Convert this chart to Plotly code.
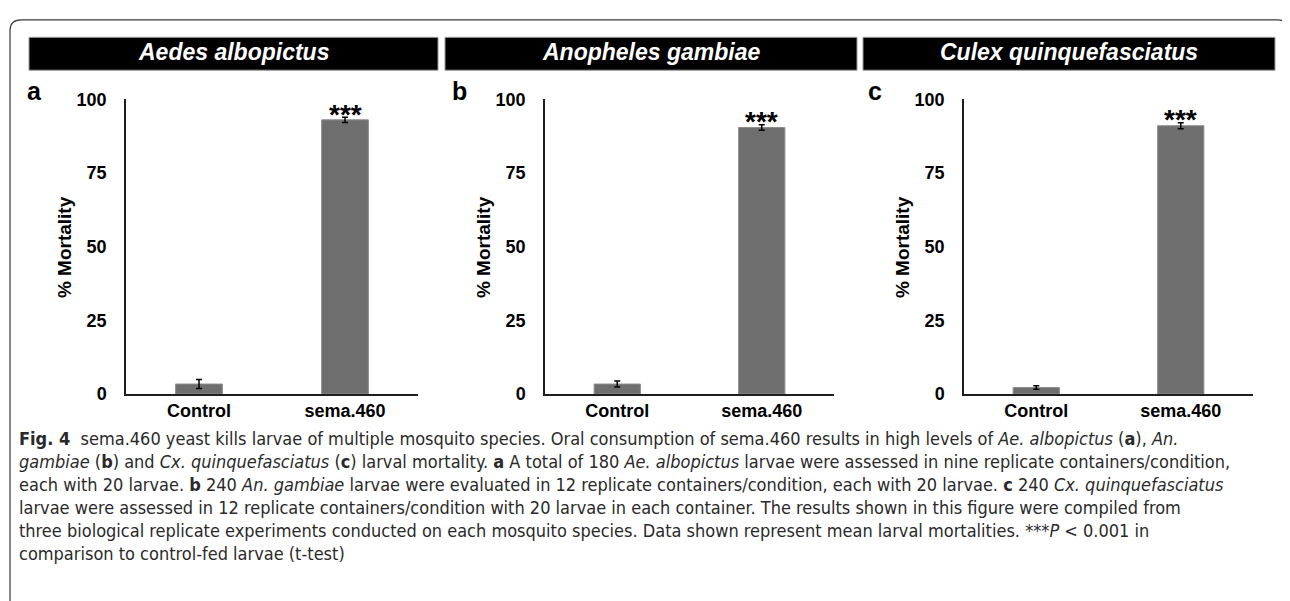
import plotly.graph_objects as go

# ---------------- data ----------------
species = ["Aedes albopictus", "Anopheles gambiae", "Culex quinquefasciatus"]
panel_letters = ["a", "b", "c"]
categories = ["Control", "sema.460"]
control_mean = [3.4, 3.4, 2.2]
control_err = [1.5, 1.0, 0.6]
sema_mean = [93.0, 90.4, 91.0]
sema_err = [0.9, 0.9, 1.0]
y_ticks = [0, 25, 50, 75, 100]
y_title = "% Mortality"
signif = "***"

caption_lines = [
    "<b>Fig. 4</b>  sema.460 yeast kills larvae of multiple mosquito species. Oral consumption of sema.460 results in high levels of <i>Ae. albopictus</i> (<b>a</b>), <i>An.</i>",
    "<i>gambiae</i> (<b>b</b>) and <i>Cx. quinquefasciatus</i> (<b>c</b>) larval mortality. <b>a</b> A total of 180 <i>Ae. albopictus</i> larvae were assessed in nine replicate containers/condition,",
    "each with 20 larvae. <b>b</b> 240 <i>An. gambiae</i> larvae were evaluated in 12 replicate containers/condition, each with 20 larvae. <b>c</b> 240 <i>Cx. quinquefasciatus</i>",
    "larvae were assessed in 12 replicate containers/condition with 20 larvae in each container. The results shown in this figure were compiled from",
    "three biological replicate experiments conducted on each mosquito species. Data shown represent mean larval mortalities. ***<i>P</i> < 0.001 in",
    "comparison to control-fed larvae (t-test)",
]

# ---------------- geometry (page pixels; page body has an 8px margin) ----------------
W, H = 1290, 601
OFF = 8
def X(px): return (px - OFF) / W
def Y(py): return 1 - (py - OFF) / H

axis_x = [(126, 418), (545, 834), (964, 1253)]
header_x = [(29, 438), (445, 857), (863, 1275)]
letter_x = [34, 459, 875]
y_top_px, y_zero_px = 92, 397

ARIAL = "Arial, Liberation Sans, Helvetica, sans-serif"
CAP_FONT = "DejaVu Sans Condensed, Liberation Sans Narrow, Arial Narrow, sans-serif"
bar_color = "#6e6e6e"
axis_color = "#1e1e1e"

fig = go.Figure()
shapes = []
annotations = []

for i in range(3):
    sfx = "" if i == 0 else str(i + 1)
    xa, ya = "x" + sfx, "y" + sfx
    means = [control_mean[i], sema_mean[i]]
    errs = [control_err[i], sema_err[i]]
    fig.add_trace(go.Bar(
        x=categories, y=means, xaxis=xa, yaxis=ya,
        width=0.32,
        marker=dict(color=bar_color, line=dict(color="#8c8c8c", width=1)),
        error_y=dict(type="data", array=errs, visible=True, color="#000000",
                     thickness=1.5, width=3),
        showlegend=False, hoverinfo="skip",
    ))
    fig.update_layout(**{
        "xaxis" + sfx: dict(
            domain=[X(axis_x[i][0]), X(axis_x[i][1])], anchor=ya,
            type="category", range=[-0.5, 1.5],
            showline=True, linecolor=axis_color, linewidth=1.5,
            ticks="", showgrid=False, zeroline=False,
            tickfont=dict(family=ARIAL, size=18, color="#000", weight="bold"),
            fixedrange=True,
        ),
        "yaxis" + sfx: dict(
            domain=[Y(y_zero_px), Y(y_top_px)], anchor=xa,
            range=[0, 100], tickvals=y_ticks,
            showline=True, linecolor=axis_color, linewidth=1.5,
            ticks="", showgrid=False, zeroline=False,
            ticklabelstandoff=14,
            tickfont=dict(family=ARIAL, size=18, color="#000", weight="bold"),
            fixedrange=True,
        ),
    })
    # significance stars
    annotations.append(dict(
        x=categories[1], y=sema_mean[i] + sema_err[i], xref=xa, yref=ya,
        text=signif, showarrow=False, yanchor="middle", yshift=3,
        font=dict(family=ARIAL, size=28, color="#000", weight="bold"),
    ))
    # y title
    annotations.append(dict(
        x=X(axis_x[i][0] - 62), y=Y(245), xref="paper", yref="paper",
        text=y_title, showarrow=False, textangle=-90,
        xanchor="center", yanchor="middle",
        font=dict(family=ARIAL, size=19, color="#000", weight="bold"),
    ))
    # panel letter
    annotations.append(dict(
        x=X(letter_x[i]), y=Y(84), xref="paper", yref="paper",
        text=panel_letters[i], showarrow=False,
        xanchor="center", yanchor="middle",
        font=dict(family=ARIAL, size=25, color="#000", weight="bold"),
    ))
    # header bar
    x0, x1 = header_x[i]
    shapes.append(dict(type="rect", xref="paper", yref="paper",
                       x0=X(x0), x1=X(x1), y0=Y(62), y1=Y(28),
                       fillcolor="#000000", line=dict(color="#9a9a9a", width=1),
                       layer="below"))
    annotations.append(dict(
        x=X((x0 + x1) / 2), y=Y(43), xref="paper", yref="paper",
        text="<i>" + species[i] + "</i>", showarrow=False,
        xanchor="center", yanchor="middle",
        font=dict(family=ARIAL, size=23, color="#ffffff", weight="bold"),
    ))

# outer rounded frame
path = (f"M {X(10)},{Y(650)} L {X(10)},{Y(21)} Q {X(10)},{Y(10)} {X(21)},{Y(10)} "
        f"L {X(1278)},{Y(10)} Q {X(1287)},{Y(10)} {X(1287)},{Y(19)} L {X(1287)},{Y(650)}")
shapes.append(dict(type="path", xref="paper", yref="paper", path=path,
                   line=dict(color="#3a3a3a", width=1.2)))

# caption
cap_y = [443, 467, 491, 514, 538, 562]
for k, line in enumerate(caption_lines):
    annotations.append(dict(
        x=X(17), y=Y(cap_y[k]), xref="paper", yref="paper",
        text=line, showarrow=False, xanchor="left", yanchor="middle",
        align="left",
        font=dict(family=CAP_FONT, size=18, color="#2a2a2a"),
    ))

fig.update_layout(
    width=W, height=H,
    margin=dict(l=0, r=0, t=0, b=0),
    paper_bgcolor="#ffffff", plot_bgcolor="#ffffff",
    shapes=shapes, annotations=annotations,
    showlegend=False,
)

fig.write_html("out.html")
